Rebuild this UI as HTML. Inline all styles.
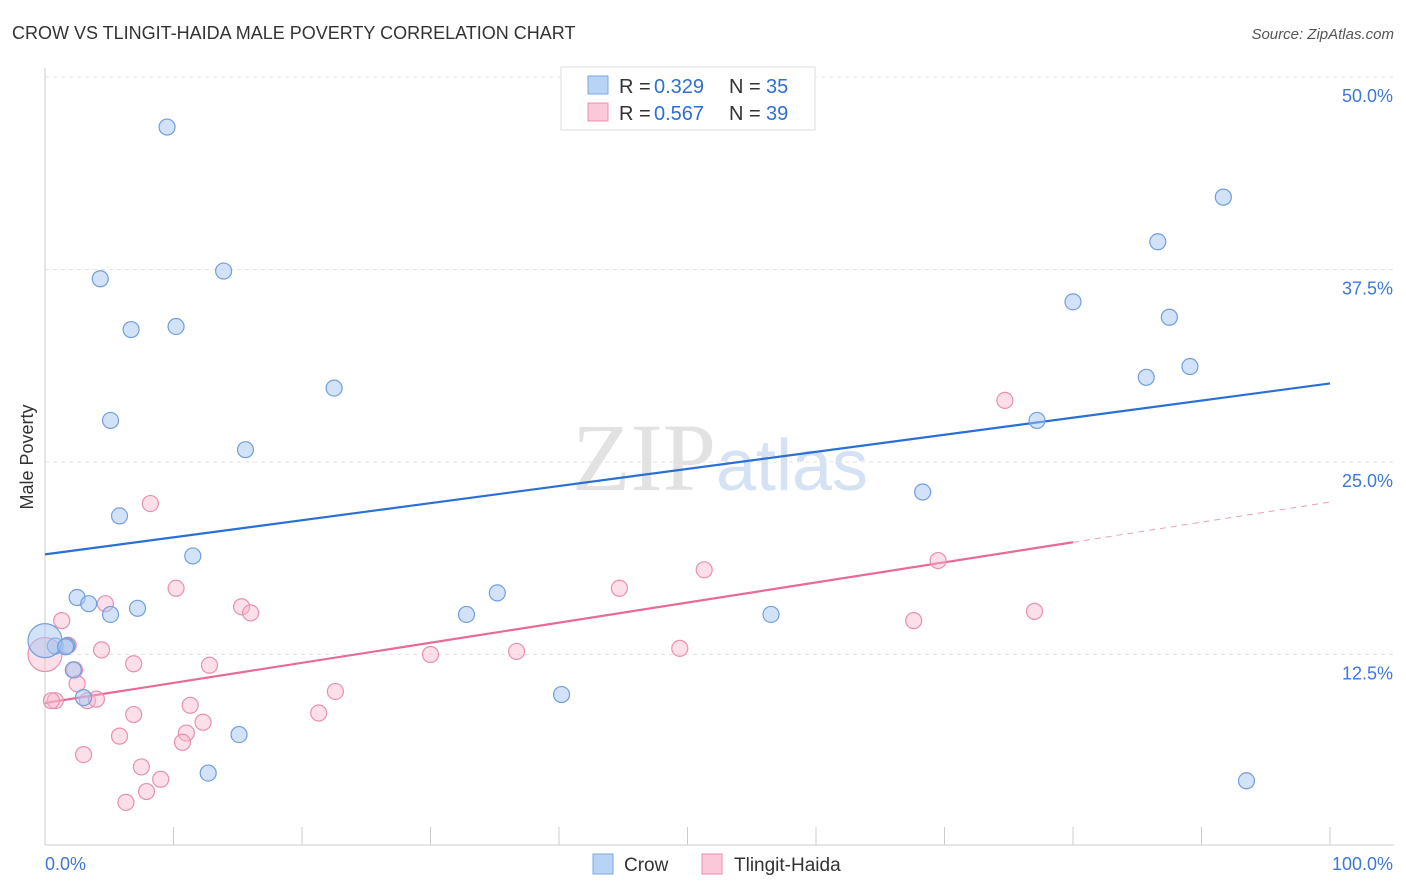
<!DOCTYPE html>
<html><head><meta charset="utf-8">
<style>
body{margin:0;background:#fff;font-family:"Liberation Sans",sans-serif;}
#wrap{position:relative;width:1406px;height:892px;overflow:hidden;}
</style></head>
<body>
<div id="wrap">
<svg id="chart" width="1406" height="892" xmlns="http://www.w3.org/2000/svg">
<text x="12" y="39" font-size="18" fill="#333">CROW VS TLINGIT-HAIDA MALE POVERTY CORRELATION CHART</text>
<text x="1394" y="39" font-size="15" fill="#555" font-style="italic" text-anchor="end">Source: ZipAtlas.com</text>
<text x="33" y="457" font-size="18" fill="#333" text-anchor="middle" transform="rotate(-90 33 457)">Male Poverty</text>
<text x="720" y="490" font-size="96" font-family="Liberation Serif,serif" fill="#e2e2e2" text-anchor="middle">ZIP<tspan fill="#d4e2f3" font-family="Liberation Sans,sans-serif" font-size="72">atlas</tspan></text>
<g id="grid"></g><g id="axes"></g><g id="lines"></g><g id="pts"></g>
<g>
<rect x="561" y="67" width="254" height="63" fill="#fff" stroke="#ddd"/>
<rect x="588" y="76" width="20" height="18" fill="#b8d3f5" stroke="#7aa8e0"/>
<rect x="588" y="103" width="20" height="18" fill="#fac8d8" stroke="#e890b0"/>
<g font-size="20" fill="#333">
<text x="619" y="93">R =</text><text x="654" y="93" fill="#2d6fd4">0.329</text><text x="729" y="93">N =</text><text x="766" y="93" fill="#2d6fd4">35</text></g>
<g font-size="20" fill="#333">
<text x="619" y="120">R =</text><text x="654" y="120" fill="#2d6fd4">0.567</text><text x="729" y="120">N =</text><text x="766" y="120" fill="#2d6fd4">39</text></g>
</g>
<g>
<rect x="593" y="854" width="20" height="20" fill="#b8d3f5" stroke="#7aa8e0"/>
<text x="624" y="871" font-size="19" fill="#333">Crow</text>
<rect x="702" y="854" width="20" height="20" fill="#fac8d8" stroke="#e890b0"/>
<text x="734" y="871" font-size="19" fill="#333">Tlingit-Haida</text>
</g>
</svg>
</div>
<script>
const yTicks=[12.5,25,37.5,50];
const yTickLabels=["12.5%","25.0%","37.5%","50.0%"];
const xLabels=["0.0%","100.0%"];
const crowX=[9.5,4.3,13.9,6.7,10.2,22.5,5.1,15.6,5.8,11.5,2.5,3.4,5.1,7.2,0.8,1.7,2.2,3.0,15.1,12.7,32.8,35.2,40.2,56.5,68.3,77.2,80.0,85.7,86.6,87.5,89.1,91.7,93.5,0,1.6];
const crowY=[46.75,36.9,37.4,33.6,33.8,29.8,27.7,25.8,21.5,18.9,16.2,15.8,15.1,15.5,13.05,13.05,11.5,9.7,7.3,4.8,15.1,16.5,9.9,15.1,23.05,27.7,35.4,30.5,39.3,34.4,31.2,42.2,4.3,13.4,13.0];
const tlX=[8.2,10.2,1.3,4.7,15.3,16.0,4.4,6.9,12.8,1.8,2.3,2.5,0.8,3.3,4.0,6.9,11.3,12.3,11.0,10.7,5.8,3.0,7.5,9.0,7.9,6.3,21.3,22.6,30.0,36.7,44.7,49.4,51.3,67.6,69.5,77.0,74.7,0,0.5];
const tlY=[22.3,16.8,14.7,15.8,15.6,15.2,12.8,11.9,11.8,13.1,11.5,10.6,9.5,9.5,9.6,8.6,9.2,8.1,7.4,6.8,7.2,6.0,5.2,4.4,3.6,2.9,8.7,10.1,12.5,12.7,16.8,12.9,18.0,14.7,18.6,15.3,29.0,12.5,9.5];
const crowTrend=[19.0,30.1];
const tlTrend=[9.35,22.4];
const tlSolidEnd=80;

const NS="http://www.w3.org/2000/svg";
const X=v=>45+v*12.85, Y=v=>847-v*15.4;
function mk(tag,attrs,parent){const e=document.createElementNS(NS,tag);for(const k in attrs)e.setAttribute(k,attrs[k]);document.getElementById(parent).appendChild(e);return e;}
yTicks.forEach((t,i)=>{
  const l=mk('line',{x1:45,x2:1394,y1:Y(t),y2:Y(t),stroke:'#e3e3e3','stroke-dasharray':'4,4'},'grid');
  
  
  const tx=mk('text',{x:1393,y:Y(t)+25,'font-size':18,fill:'#3d78d8','text-anchor':'end'},'grid');
  tx.textContent=yTickLabels[i];
  
  
});
let ax=mk('line',{x1:45,x2:1394,y1:845,y2:845,stroke:'#ccc'},'axes');


let ay=mk('line',{x1:45,x2:45,y1:68,y2:845,stroke:'#ccc'},'axes');


for(let i=0;i<=10;i++){
  const t=mk('line',{x1:X(i*10),x2:X(i*10),y1:827,y2:845,stroke:'#ccc'},'axes');
  
  
}
[[0,'start',45],[100,'end',1393]].forEach((d,i)=>{
  const t=mk('text',{x:d[2],y:870,'font-size':18,fill:'#3d78d8','text-anchor':d[1]},'axes');
  t.textContent=xLabels[i];
  
  
});
let bl=mk('line',{x1:X(0),y1:Y(crowTrend[0]),x2:X(100),y2:Y(crowTrend[1]),stroke:'#2a6fd6','stroke-width':2.2},'lines');


const tlAt=x=>tlTrend[0]+(tlTrend[1]-tlTrend[0])*x/100;
let pl=mk('line',{x1:X(0),y1:Y(tlTrend[0]),x2:X(tlSolidEnd),y2:Y(tlAt(tlSolidEnd)),stroke:'#e86a95','stroke-width':2.2},'lines');


let pd=mk('line',{x1:X(tlSolidEnd),y1:Y(tlAt(tlSolidEnd)),x2:X(100),y2:Y(tlTrend[1]),stroke:'#e8a0b8','stroke-width':1,'stroke-dasharray':'6,5'},'lines');


function pts(xs,ys,fill,stroke,name,bigIdx){
  xs.forEach((x,i)=>{
    const c=mk('circle',{cx:X(x),cy:Y(ys[i]),r:i===bigIdx?17:8,fill:fill,stroke:stroke,'stroke-width':1.2},'pts');
    
    
  });
}
pts(tlX,tlY,'rgba(248,185,205,0.45)','#e890b0','tlingit-point',37);
pts(crowX,crowY,'rgba(165,198,242,0.5)','#6f9fdc','crow-point',33);
</script>
</body></html>
